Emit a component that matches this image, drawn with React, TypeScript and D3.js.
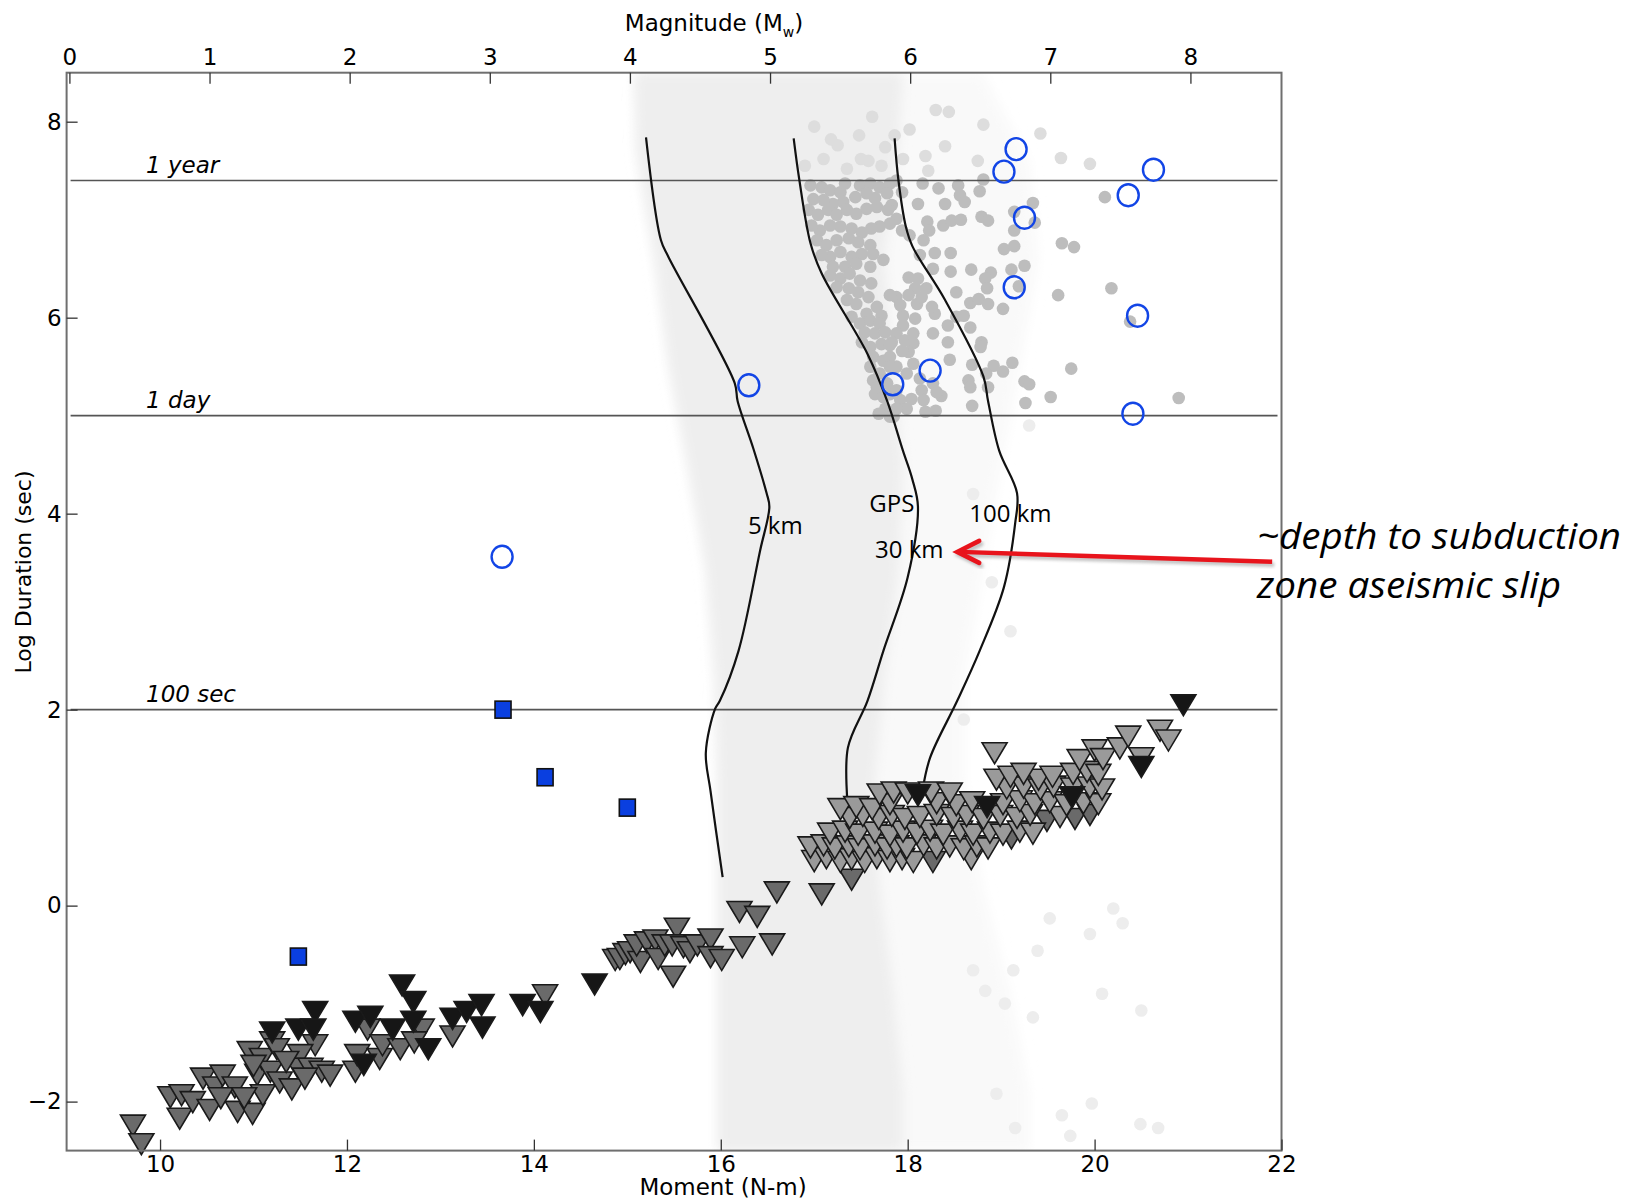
import React, { useEffect, useRef } from "react";
import * as d3 from "d3";

// axes
const momentTicks = [10, 12, 14, 16, 18, 20, 22];
const durationTicks = [-2, 0, 2, 4, 6, 8];
const magnitudeTicks = [0, 1, 2, 3, 4, 5, 6, 7, 8];

// horizontal reference durations (log10 sec)
const refLabels = ["1 year", "1 day", "100 sec"];
const refValues = [7.4, 5.0, 2.0];

// light background cloud of modelled events [moment, logDuration]
const cloudCore = [
  [15.08, 8.5], [17.95, 8.5], [17.9, 7.7], [17.75, 6.6], [17.85, 5.5], [17.95, 4.5],
  [17.9, 3.4], [17.75, 2.3], [17.65, 1.3], [17.7, 0.2], [17.85, -0.9], [17.95, -1.9],
  [17.95, -2.5], [15.97, -2.5], [15.97, -0.9], [15.97, 0.2], [15.97, 1.3], [15.95, 2.3],
  [15.85, 3.4], [15.65, 4.5], [15.45, 5.5], [15.3, 6.6], [15.1, 7.7],
];
const cloudOuter = [
  [15.08, 8.5], [18.8, 8.5], [19.3, 7.6], [19.4, 6.6], [19.2, 5.5], [19.0, 4.5],
  [18.8, 3.4], [18.6, 2.3], [18.6, 1.3], [18.8, 0.2], [19.1, -0.9], [19.3, -1.9],
  [19.3, -2.5], [15.97, -2.5], [15.97, 1.3], [15.85, 3.4], [15.45, 5.5], [15.1, 7.7],
];
const faintDots = [
  [19.52, -0.13], [20.2, -0.03], [20.3, -0.18], [19.95, -0.29], [19.39, -0.46], [20.08, -0.9],
  [20.5, -1.07], [19.34, -1.14], [19.97, -2.02], [20.49, -2.23], [20.68, -2.27], [19.65, -2.14],
  [19.74, -2.35], [19.15, -2.27], [18.95, -1.92], [19.04, -1.0], [19.13, -0.66], [18.83, -0.87],
  [18.7, -0.66], [18.9, 3.3], [19.1, 2.8], [18.7, 4.2], [19.3, 4.9], [18.6, 1.9], [18.8, 0.6],
];
const lightDots = [
  [19.64, 7.63], [19.95, 7.57], [19.42, 7.88], [18.81, 7.97], [18.44, 8.1], [18.19, 7.65],
  [17.86, 7.86], [17.58, 7.6], [17.25, 7.76], [18.75, 7.6], [16.9, 7.55], [17.1, 7.62],
  [17.35, 7.52], [17.5, 7.62], [17.72, 7.55], [17.95, 7.62], [17.18, 7.82], [17.48, 7.86],
  [17.76, 7.74], [18.02, 7.92], [18.22, 7.5], [18.4, 7.75], [17.0, 7.95], [17.62, 8.05], [18.3, 8.12],
];
// observed slow events (grey dots)
const greyDots = [
  [18.16, 7.37], [18.33, 7.32], [18.54, 7.35], [18.56, 7.25], [18.61, 7.18], [18.77, 7.29], [18.81, 7.41],
  [18.11, 7.16], [18.21, 6.98], [18.4, 7.16], [18.38, 6.94], [18.47, 6.99], [18.57, 7.0], [18.79, 7.03],
  [18.86, 6.99], [19.14, 7.08], [19.34, 7.17], [19.36, 6.97], [19.14, 6.89], [20.11, 7.23], [18.23, 6.89],
  [18.17, 6.79], [19.03, 6.7], [19.14, 6.73], [19.65, 6.76], [19.78, 6.72], [18.29, 6.66], [18.46, 6.66],
  [18.13, 6.64], [18.27, 6.5], [18.46, 6.47], [18.68, 6.49], [18.89, 6.46], [19.11, 6.49], [19.25, 6.53],
  [18.83, 6.4], [18.85, 6.3], [18.52, 6.26], [18.67, 6.15], [18.76, 6.19], [18.86, 6.14], [19.02, 6.09],
  [19.61, 6.23], [20.18, 6.3], [19.19, 6.32], [20.38, 5.96], [18.67, 5.9], [18.79, 5.75], [18.78, 5.7],
  [18.43, 5.75], [18.45, 5.57], [18.69, 5.52], [18.92, 5.51], [19.02, 5.45], [19.12, 5.54], [18.84, 5.43],
  [18.86, 5.29], [18.65, 5.36], [18.67, 5.29], [19.25, 5.35], [19.3, 5.32], [19.75, 5.48], [19.53, 5.19],
  [19.26, 5.13], [18.69, 5.1], [20.9, 5.18], [18.36, 5.2], [18.3, 5.05], [18.19, 5.04], [18.43, 5.92],
  [18.52, 6.01], [18.29, 6.04], [18.6, 6.02], [18.06, 5.84], [18.27, 5.84], [18.08, 5.99], [17.95, 6.02],
  [18.1, 6.14], [18.26, 6.11], [18.15, 6.21], [18.2, 6.3], [18.08, 6.3], [18.01, 6.41], [18.11, 6.4],
  [18.01, 6.23], [17.88, 6.21], [17.81, 6.23], [17.92, 6.13], [17.95, 5.92], [17.88, 5.84], [17.97, 5.77],
  [18.06, 5.74], [17.83, 5.75], [18.01, 5.65], [17.94, 5.66], [17.81, 5.6], [18.06, 5.53], [17.88, 5.5],
  [17.99, 5.43], [18.13, 5.38], [18.27, 5.33], [18.15, 5.26], [18.31, 5.24], [18.04, 5.17], [17.92, 5.16],
  [18.17, 5.16], [17.99, 5.07], [17.88, 5.07], [17.85, 4.99], [17.63, 5.36], [17.65, 5.22],
  [16.96, 7.35], [17.08, 7.33], [17.17, 7.3], [17.28, 7.28], [17.33, 7.37], [17.49, 7.35], [17.6, 7.37],
  [17.7, 7.33], [17.81, 7.37], [17.88, 7.4], [17.78, 7.27], [17.65, 7.22], [17.56, 7.27], [17.44, 7.23],
  [17.31, 7.18], [17.2, 7.16], [17.1, 7.2], [16.99, 7.21], [17.83, 7.15], [17.94, 7.28],
  [16.94, 7.1], [17.04, 7.05], [17.15, 7.1], [17.24, 7.05], [17.35, 7.1], [17.45, 7.06], [17.56, 7.11],
  [17.67, 7.13], [17.79, 7.1], [17.88, 7.01], [17.81, 6.96], [17.7, 6.93], [17.61, 6.91], [17.51, 6.87],
  [17.4, 6.91], [17.28, 6.93], [17.17, 6.94], [17.06, 6.89], [16.97, 6.94], [17.94, 6.89], [18.02, 6.84],
  [17.03, 6.79], [17.13, 6.74], [17.24, 6.79], [17.37, 6.81], [17.47, 6.77], [17.6, 6.74], [17.51, 6.65],
  [17.4, 6.62], [17.28, 6.67], [17.17, 6.62], [17.08, 6.64], [17.2, 6.52], [17.33, 6.52], [17.45, 6.55],
  [17.63, 6.65], [17.74, 6.59], [17.6, 6.52],
  [17.17, 6.43], [17.28, 6.4], [17.38, 6.45], [17.49, 6.38], [17.61, 6.35], [17.37, 6.3], [17.24, 6.31],
  [17.47, 6.26], [17.58, 6.21], [17.35, 6.18], [17.45, 6.14], [17.67, 6.11], [17.56, 6.04], [17.72, 6.02],
  [17.4, 6.01], [17.49, 5.94], [17.6, 5.97], [17.7, 5.94], [17.54, 5.85], [17.65, 5.84], [17.76, 5.85],
  [17.51, 5.75], [17.6, 5.7], [17.72, 5.73], [17.81, 5.72],
  [17.63, 5.6], [17.74, 5.56], [17.6, 5.5], [17.7, 5.43], [17.81, 5.5], [17.67, 5.29], [17.78, 5.33],
  [17.74, 5.19], [17.81, 5.22], [17.88, 5.26], [17.76, 5.07], [17.69, 5.02], [17.81, 4.99],
];

// depth scaling curves
const curve5km = [
  [15.2, 7.84], [15.36, 6.79], [15.44, 6.62], [16.15, 5.33], [16.18, 5.15], [16.35, 4.66], [16.49, 4.21],
  [16.52, 4.07], [16.42, 3.62], [16.19, 2.6], [15.99, 2.09], [15.94, 2.01], [15.84, 1.56], [15.89, 1.17],
  [16.02, 0.29],
];
const curveGps = [
  [16.78, 7.83], [16.84, 7.41], [16.96, 6.76], [17.08, 6.45], [17.57, 5.63], [17.78, 5.15], [17.95, 4.64],
  [18.05, 4.35], [18.11, 4.07], [18.0, 3.35], [17.74, 2.6], [17.57, 2.09], [17.36, 1.61], [17.36, 1.0],
];
const curve100km = [
  [17.86, 7.83], [17.9, 7.41], [17.98, 6.93], [18.05, 6.73], [18.4, 6.18], [18.81, 5.4], [18.86, 5.15],
  [18.98, 4.64], [19.17, 4.21], [19.15, 3.9], [19.03, 3.25], [18.77, 2.6], [18.53, 2.09], [18.24, 1.51],
  [18.16, 1.18],
];

// blue markers
const slowCircles = [
  [19.16, 7.72], [19.03, 7.49], [20.63, 7.51], [20.36, 7.25], [19.25, 7.02], [19.14, 6.31],
  [20.46, 6.02], [18.24, 5.46], [17.84, 5.32], [16.3, 5.31], [20.41, 5.02], [13.66, 3.56],
];
const slowSquares = [[13.67, 2.0], [14.12, 1.31], [15.0, 1.0], [11.48, -0.52]];

// earthquakes (down triangles)
const quakesMid = [
  [9.71, -2.23], [9.8, -2.42], [10.11, -1.94], [10.21, -2.16], [10.23, -1.92], [10.35, -1.99], [10.46, -1.75],
  [10.53, -2.07], [10.59, -1.84], [10.67, -1.72], [10.8, -1.84], [10.83, -2.09], [10.99, -2.11], [10.96, -1.48],
  [11.04, -1.71], [11.09, -1.55], [11.1, -1.92], [11.18, -1.68], [11.2, -1.38], [11.28, -1.79], [11.66, -1.41],
  [11.5, -1.51], [11.48, -1.65], [11.41, -1.86], [11.61, -1.65], [11.73, -1.68], [11.82, -1.72], [12.09, -1.68],
  [12.11, -1.51], [12.22, -1.25], [12.35, -1.55], [12.38, -1.41], [12.57, -1.45], [12.8, -1.25], [12.72, -1.38],
  [13.13, -1.32], [14.12, -0.9], [11.25, -1.45], [11.35, -1.58], [11.55, -1.75], [10.65, -1.95], [10.9, -1.95],
  [11.0, -1.62],
  [14.87, -0.54], [14.92, -0.53], [14.98, -0.48], [15.03, -0.46], [15.14, -0.56], [15.1, -0.39], [15.21, -0.36],
  [15.3, -0.34], [15.33, -0.53], [15.4, -0.39], [15.53, -0.22], [15.49, -0.71], [15.48, -0.39], [15.6, -0.41],
  [15.67, -0.46], [15.75, -0.39], [15.89, -0.33], [15.89, -0.51], [16.01, -0.54], [16.23, -0.41], [16.2, -0.05],
  [16.39, -0.1], [16.55, -0.38], [16.6, 0.15],
  [17.08, 0.13], [17.4, 0.28], [18.27, 0.46], [19.11, 0.7], [19.49, 0.88], [19.79, 0.9], [19.95, 0.94],
];
const quakesLight = [
  [17.0, 0.47], [17.13, 0.5], [17.28, 0.46], [17.4, 0.49], [17.54, 0.46], [17.67, 0.5], [17.81, 0.47],
  [17.94, 0.49], [18.06, 0.46], [18.68, 0.49],
  [16.96, 0.61], [17.1, 0.63], [17.22, 0.6], [17.37, 0.62], [17.49, 0.59], [17.65, 0.63], [17.78, 0.6],
  [17.88, 0.62], [17.99, 0.6], [18.17, 0.63], [18.31, 0.6], [18.45, 0.62], [18.6, 0.59], [18.74, 0.62], [18.86, 0.6],
  [17.17, 0.75], [17.33, 0.77], [17.47, 0.74], [17.65, 0.76], [17.81, 0.73], [17.95, 0.77], [18.1, 0.75],
  [18.24, 0.78], [18.38, 0.74], [18.56, 0.77], [18.7, 0.74], [18.88, 0.76], [19.02, 0.74], [19.2, 0.77], [19.34, 0.75],
  [17.38, 0.91], [17.52, 0.93], [17.69, 0.9], [17.83, 0.93], [17.97, 0.9], [18.13, 0.92], [18.31, 0.94],
  [18.49, 0.91], [18.63, 0.93], [18.81, 0.9], [18.99, 0.93], [19.17, 0.91], [19.31, 0.94], [19.63, 0.92],
  [17.28, 1.0], [17.45, 1.02], [17.62, 1.0],
  [17.81, 1.05], [18.31, 1.06], [18.52, 1.04], [18.69, 1.07], [19.02, 1.05], [19.2, 1.08], [19.36, 1.05],
  [19.52, 1.07], [19.7, 1.04], [19.88, 1.06], [20.04, 1.05],
  [17.7, 1.15], [17.85, 1.17], [18.0, 1.16], [18.25, 1.17], [18.45, 1.16],
  [19.06, 1.21], [19.24, 1.22], [19.42, 1.2], [19.56, 1.23], [19.77, 1.21], [19.95, 1.22], [20.08, 1.2],
  [18.95, 1.3], [19.1, 1.33], [19.4, 1.3], [19.55, 1.33],
  [19.24, 1.36], [19.77, 1.36], [19.92, 1.38], [20.04, 1.35],
  [18.93, 1.57], [19.84, 1.5], [20.0, 1.6], [20.09, 1.51], [20.27, 1.62], [20.36, 1.74], [20.7, 1.8],
  [20.79, 1.7], [20.5, 1.52],
];
const quakesBlack = [
  [11.2, -1.28], [11.48, -1.25], [11.66, -1.07], [11.64, -1.25], [12.09, -1.17], [12.25, -1.12], [12.18, -1.61],
  [12.59, -0.8], [12.71, -0.97], [12.71, -1.17], [12.49, -1.25], [12.87, -1.45], [13.13, -1.14], [13.28, -1.07],
  [13.44, -1.0], [13.45, -1.23], [13.88, -1.0], [14.07, -1.07], [14.65, -0.79],
  [18.11, 1.14], [18.85, 1.02], [19.76, 1.12], [20.5, 1.43], [20.95, 2.06],
];

const W = 1631;
const H = 1202;
const AXIS_FONT = "'DejaVu Sans', 'Liberation Sans', Arial, sans-serif";
const NOTE_FONT = "'Open Sans', 'Noto Sans', sans-serif";

const App = () => {
  const ref = useRef<SVGSVGElement>(null);

  useEffect(() => {
    const svg = d3.select(ref.current);
    svg.selectAll("*").remove();

    const x = d3.scaleLinear().domain([9, 22]).range([66.6, 1281.5]);
    const y = d3.scaleLinear().domain([-2.5, 8.5]).range([1150.6, 72.7]);
    const mw = d3.scaleLinear().domain([-0.02, 8.65]).range(x.range());

    const defs = svg.append("defs");
    defs.append("clipPath").attr("id", "plotClip")
      .append("rect")
      .attr("x", x(9)).attr("y", y(8.5))
      .attr("width", x(22) - x(9)).attr("height", y(-2.5) - y(8.5));
    defs.append("filter").attr("id", "soft")
      .attr("x", "-20%").attr("y", "-20%").attr("width", "140%").attr("height", "140%")
      .append("feGaussianBlur").attr("stdDeviation", 6);
    defs.append("filter").attr("id", "shadow")
      .append("feGaussianBlur").attr("stdDeviation", 1.5);

    svg.append("rect").attr("width", W).attr("height", H).attr("fill", "#fff");

    const plot = svg.append("g").attr("clip-path", "url(#plotClip)");
    const poly = d3.line<number[]>().x(d => x(d[0])).y(d => y(d[1])).curve(d3.curveLinearClosed);

    plot.append("path").attr("d", poly(cloudOuter)).attr("fill", "#f9f9f9").attr("filter", "url(#soft)");
    plot.append("path").attr("d", poly(cloudCore)).attr("fill", "#eeeeee").attr("filter", "url(#soft)");

    const dots = (data: number[][], fill: string) =>
      plot.append("g").selectAll("circle").data(data).enter().append("circle")
        .attr("cx", d => x(d[0])).attr("cy", d => y(d[1])).attr("r", 6.3).attr("fill", fill);
    dots(faintDots, "#ededed");
    dots(lightDots, "#dddddd");
    dots(greyDots, "#bdbdbd");

    // reference durations
    refValues.forEach((v, i) => {
      plot.append("line")
        .attr("x1", x(9) + 4).attr("x2", x(22) - 4)
        .attr("y1", y(v)).attr("y2", y(v))
        .attr("stroke", "#555").attr("stroke-width", 1.6);
      svg.append("text")
        .attr("x", 146).attr("y", y(v) - 7.5)
        .attr("font-family", AXIS_FONT).attr("font-style", "italic").attr("font-size", 23)
        .text(refLabels[i]);
    });

    const line = d3.line<number[]>().x(d => x(d[0])).y(d => y(d[1])).curve(d3.curveCatmullRom.alpha(0.5));
    [curve5km, curveGps, curve100km].forEach(c => {
      svg.append("path").attr("d", line(c)).attr("fill", "none")
        .attr("stroke", "#111").attr("stroke-width", 2.2);
    });

    const tri = (d: number[]) => {
      const px = x(d[0]);
      const py = y(d[1]);
      return `M${px - 12.5},${py - 9}L${px + 12.5},${py - 9}L${px},${py + 12}Z`;
    };
    const triangles = (data: number[][], fill: string) =>
      svg.append("g").selectAll("path").data(data).enter().append("path")
        .attr("d", tri).attr("fill", fill)
        .attr("stroke", "#1a1a1a").attr("stroke-width", 1.6).attr("stroke-linejoin", "miter");
    triangles(quakesMid, "#6a6a6a");
    triangles(quakesLight, "#9a9a9a");
    triangles(quakesBlack, "#161616");

    svg.append("g").selectAll("rect").data(slowSquares).enter().append("rect")
      .attr("x", d => x(d[0]) - 8).attr("y", d => y(d[1]) - 8.5)
      .attr("width", 16).attr("height", 17)
      .attr("fill", "#0a3fe0").attr("stroke", "#111").attr("stroke-width", 1.6);

    svg.append("g").selectAll("ellipse").data(slowCircles).enter().append("ellipse")
      .attr("cx", d => x(d[0])).attr("cy", d => y(d[1]))
      .attr("rx", 10.5).attr("ry", 11)
      .attr("fill", "none").attr("stroke", "#1245e6").attr("stroke-width", 2.4);

    // curve labels
    const curveLabels: [string, number, number][] = [
      ["5 km", 16.29, 3.79], ["GPS", 17.59, 4.02], ["30 km", 17.65, 3.55], ["100 km", 18.66, 3.91],
    ];
    curveLabels.forEach(([t, m, d]) => {
      svg.append("text").attr("x", x(m)).attr("y", y(d))
        .attr("font-family", NOTE_FONT).attr("font-size", 24).attr("fill", "#000").text(t);
    });

    // frame
    svg.append("rect")
      .attr("x", x(9)).attr("y", y(8.5))
      .attr("width", x(22) - x(9)).attr("height", y(-2.5) - y(8.5))
      .attr("fill", "none").attr("stroke", "#6f6f6f").attr("stroke-width", 2);

    const styleAxis = (g: d3.Selection<SVGGElement, unknown, null, undefined>) => {
      g.select(".domain").remove();
      g.attr("font-family", AXIS_FONT).attr("font-size", 23);
      g.selectAll(".tick line").attr("stroke", "#333").attr("stroke-width", 1.3);
      g.selectAll(".tick text").attr("fill", "#000");
    };

    svg.append("g").attr("transform", `translate(0,${y(-2.5)})`)
      .call(d3.axisBottom(x).tickValues(momentTicks).tickSizeInner(-11).tickSizeOuter(0).tickPadding(5))
      .call(styleAxis as any);
    svg.append("g").attr("transform", `translate(0,${y(8.5)})`)
      .call(d3.axisTop(mw).tickValues(magnitudeTicks).tickSizeInner(-11).tickSizeOuter(0).tickPadding(8))
      .call(styleAxis as any);
    svg.append("g").attr("transform", `translate(${x(9)},0)`)
      .call(d3.axisLeft(y).tickValues(durationTicks).tickSizeInner(-11).tickSizeOuter(0).tickPadding(5))
      .call(styleAxis as any);

    // axis titles
    const mag = svg.append("text").attr("x", 714).attr("y", 31)
      .attr("text-anchor", "middle").attr("font-family", AXIS_FONT).attr("font-size", 23);
    mag.append("tspan").text("Magnitude (M");
    mag.append("tspan").attr("font-size", 14).attr("dy", 6).text("w");
    mag.append("tspan").attr("dy", -6).text(")");

    svg.append("text").attr("x", 723).attr("y", 1195)
      .attr("text-anchor", "middle").attr("font-family", AXIS_FONT).attr("font-size", 23)
      .text("Moment (N-m)");

    svg.append("text").attr("transform", "translate(31,572) rotate(-90)")
      .attr("text-anchor", "middle").attr("font-family", AXIS_FONT).attr("font-size", 22)
      .text("Log Duration (sec)");

    // annotation arrow
    const tip = [x(18.53), y(3.61)];
    const tail = [x(21.9), y(3.51)];
    const arrow = (g: d3.Selection<SVGGElement, unknown, null, undefined>, color: string) => {
      g.append("line").attr("x1", tail[0]).attr("y1", tail[1]).attr("x2", tip[0] + 2).attr("y2", tip[1])
        .attr("stroke", color).attr("stroke-width", 4.5);
      g.append("polyline")
        .attr("points", `${tip[0] + 22},${tip[1] - 11} ${tip[0]},${tip[1]} ${tip[0] + 22},${tip[1] + 11}`)
        .attr("fill", "none").attr("stroke", color).attr("stroke-width", 4.5)
        .attr("stroke-linecap", "round").attr("stroke-linejoin", "miter");
    };
    arrow(svg.append("g").attr("transform", "translate(2,3)").attr("opacity", 0.35).attr("filter", "url(#shadow)"), "#555");
    arrow(svg.append("g"), "#e8141c");

    svg.append("text").attr("x", 1257).attr("y", 549)
      .attr("font-family", NOTE_FONT).attr("font-style", "italic").attr("font-size", 36)
      .attr("textLength", 364).attr("lengthAdjust", "spacingAndGlyphs")
      .text("~depth to subduction");
    svg.append("text").attr("x", 1257).attr("y", 598)
      .attr("font-family", NOTE_FONT).attr("font-style", "italic").attr("font-size", 36)
      .attr("textLength", 304).attr("lengthAdjust", "spacingAndGlyphs")
      .text("zone aseismic slip");
  }, []);

  return (
    <svg ref={ref} width={W} height={H}
      style={{ position: "absolute", left: 0, top: 0, display: "block" }} />
  );
};

export default App;
